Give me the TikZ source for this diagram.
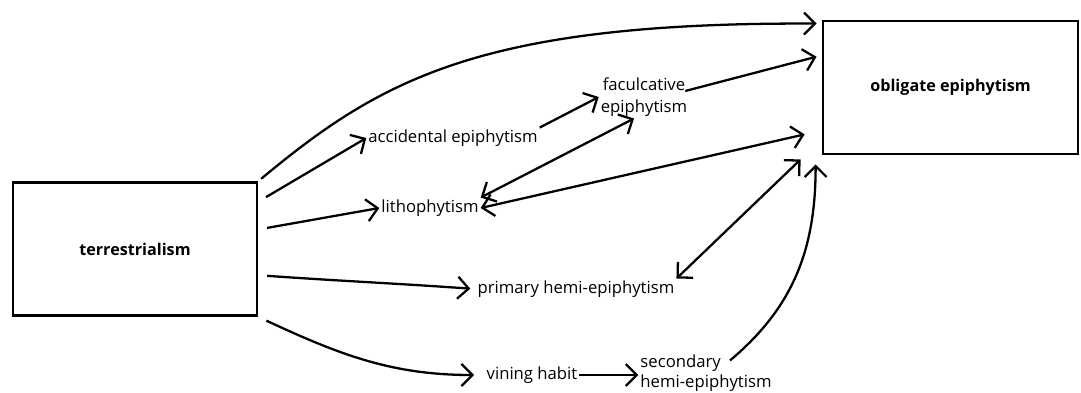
\documentclass[tikz,border=0pt]{standalone}
\usepackage{fontspec}
\setmainfont{Open Sans}
\usetikzlibrary{arrows.meta}

\begin{document}
\begin{tikzpicture}[x=0.02cm,y=-0.02cm,
		box/.style={draw,line width=1.6pt,minimum width=#1,minimum height=2.66cm,font=\bfseries\fontsize{9.2}{11}\selectfont},
		box/.default=4.9cm,
		lbl/.style={inner sep=1pt,font=\fontsize{9.5}{11.5}\selectfont},
		arr/.style={line width=1.3pt,>={Straight Barb[length=2.2mm,width=4.4mm]}}]
		
		\useasboundingbox (0,0) rectangle (1081,392);
		
		%boxes
		\node[box=4.88cm] (terr) at (135,249) {terrestrialism};
		\node[box=5.1cm] (obl) at (950.5,87.5) {obligate epiphytism};
		
		%labels
		\node[lbl] (acc) at (453,138) {accidental epiphytism};
		\node[lbl] (litho) at (430,208) {lithophytism};
		\node[lbl,align=center] (facul) at (644,97) {faculcative\\[1pt] epiphytism};
		\node[lbl] (prim) at (576,289) {primary hemi-epiphytism};
		\node[lbl] (vin) at (532,375) {vining habit};
		\node[lbl,align=left] (sec) at (706,373) {secondary\\hemi-epiphytism};
		
		%from terrestrialism
		\foreach \ang/\dest in {21/acc.west,9/litho.west}
		{
			\draw[arr,->,shorten <=5pt] (terr.\ang) -- (\dest);
		}
		\draw[arr,->,shorten <=5pt,shorten >=3pt] (terr.-12) to[out=-4,in=176] (prim.west);
		\draw[arr,->,shorten <=5pt,shorten >=6pt] (terr.south east) to[out=-25,in=180] (vin.west);
		\draw[arr,->,shorten <=2pt] (terr.north east) .. controls (380,80) and (480,22) .. ([shift={(-5,4)}]obl.north west);
		
		%middle
		\draw[arr,->] (acc.north east) -- (facul.west);
		\draw[arr,->] (vin.east) -- (vin.east -| sec.west);
		\draw[arr,<->] (litho.north east) -- ([shift={(-10,0)}]facul.south);
		
		%into obligate epiphytism
		\draw[arr,->,shorten >=3pt] ([shift={(-4,-6)}]facul.east) -- (obl.166);
		\draw[arr,<->] (litho.east) -- ([shift={(-17,-21)}]obl.south west);
		\draw[arr,<->] (prim.north east) -- ([shift={(-21,4)}]obl.south west);
		\draw[arr,->] ([shift={(24,8)}]sec.north) to[out=40,in=-90] ([shift={(-6,9)}]obl.south west);
		
	\end{tikzpicture}
\end{document}
